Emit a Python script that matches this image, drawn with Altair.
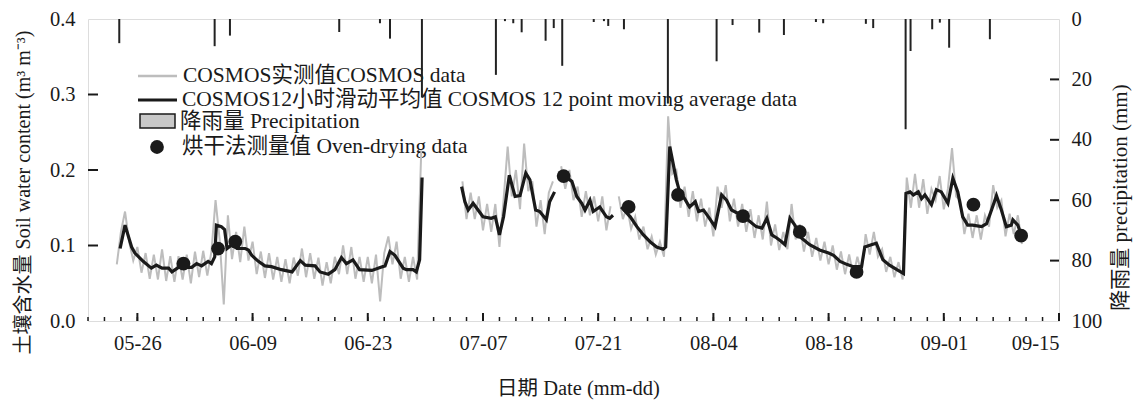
import altair as alt
import pandas as pd

FONT = "Liberation Serif, Noto Sans CJK SC"
START = pd.Timestamp("2014-05-20")

# ---------------- data (days after 05-20) ----------------
# precipitation events
precip_days = [3.80, 15.39, 17.25, 30.53, 35.48, 36.70, 40.58, 49.57, 50.67, 51.68,
               52.70, 55.61, 56.60, 57.63, 61.46, 62.70, 63.22, 65.13, 70.47, 76.39,
               78.33, 81.57, 84.57, 88.46, 89.34, 94.53, 95.42, 99.36, 99.96, 102.59,
               103.52, 104.65, 109.60]
precip_mm = [8.0, 9.0, 5.5, 4.3, 1.4, 6.5, 26.0, 18.5, 0.7, 1.4,
             4.4, 7.2, 3.0, 15.5, 1.0, 0.7, 2.3, 3.4, 28.0, 14.0,
             2.0, 4.5, 5.3, 1.0, 1.4, 1.6, 3.0, 36.5, 10.6, 3.4,
             1.2, 9.5, 6.7]

# 12-point moving average (black line), by continuous segment
avg_days_a = [3.9, 4.5, 5.3, 5.7, 6.7, 7.7, 8.3, 9.0, 9.8, 10.2, 11.0, 12.6, 13.2, 13.8,
              14.6, 15.0, 15.4, 15.6, 16.2, 16.6, 16.9, 17.5, 18.1, 19.1, 19.5, 19.9,
              20.7, 21.5, 22.3, 23.5, 24.8, 25.8, 26.4, 27.6, 28.2, 29.2, 30.0, 30.8,
              31.4, 32.2, 33.0, 34.5, 35.5, 36.1, 36.7, 37.3, 38.3, 38.7, 39.5, 39.9,
              40.3, 40.6]
avg_vals_a = [0.096, 0.127, 0.098, 0.090, 0.079, 0.070, 0.074, 0.070, 0.070, 0.065, 0.071,
              0.071, 0.076, 0.073, 0.079, 0.076, 0.085, 0.127, 0.125, 0.121, 0.096, 0.101,
              0.096, 0.096, 0.094, 0.087, 0.079, 0.073, 0.072, 0.068, 0.065, 0.080, 0.074,
              0.073, 0.065, 0.062, 0.068, 0.084, 0.076, 0.081, 0.068, 0.067, 0.071, 0.073,
              0.092, 0.087, 0.070, 0.068, 0.068, 0.065, 0.081, 0.190]
avg_days_b = [45.4, 45.8, 46.2, 46.8, 47.4, 48.0, 49.0, 49.5, 50.0, 50.5, 51.2, 51.9,
              52.5, 53.2, 53.7, 54.4, 54.9, 55.7, 56.1, 56.7]
avg_vals_b = [0.178, 0.158, 0.147, 0.156, 0.147, 0.138, 0.136, 0.138, 0.114, 0.138, 0.193,
              0.165, 0.166, 0.196, 0.187, 0.147, 0.145, 0.134, 0.158, 0.171]
avg_days_c = [57.9, 58.8, 59.4, 60.0, 60.4, 61.0, 61.4, 62.2, 63.0, 63.4, 63.8]
avg_vals_c = [0.192, 0.185, 0.165, 0.156, 0.147, 0.160, 0.145, 0.151, 0.138, 0.136, 0.140]
avg_days_d = [64.8, 65.9, 66.7, 67.5, 68.3, 69.1, 69.9, 70.2, 70.7, 71.5, 71.9, 72.5,
              73.1, 73.8, 74.2, 74.8, 75.4, 76.2, 77.0, 77.6, 78.2, 79.6, 80.4, 81.2,
              81.9, 82.5, 83.1, 83.7, 84.3, 84.7, 85.3, 85.9, 86.7, 87.7, 88.9, 90.0,
              90.6, 91.4, 92.2, 93.0, 94.0, 94.4, 95.2, 95.8, 96.6, 97.4, 98.3, 99.1,
              99.4, 99.9, 100.3, 100.9, 101.3, 101.7, 102.5, 103.1, 103.7, 104.5, 105.1,
              105.7, 106.3, 106.9, 107.5, 108.6, 109.2, 109.8, 110.4, 111.0, 111.6,
              112.2, 112.4, 113.0, 113.4]
avg_vals_d = [0.151, 0.138, 0.125, 0.114, 0.105, 0.098, 0.095, 0.098, 0.231, 0.187, 0.171,
              0.162, 0.151, 0.158, 0.145, 0.147, 0.138, 0.125, 0.167, 0.160, 0.147, 0.139,
              0.132, 0.125, 0.123, 0.136, 0.114, 0.110, 0.105, 0.101, 0.136, 0.127, 0.110,
              0.101, 0.094, 0.090, 0.087, 0.079, 0.075, 0.072, 0.072, 0.098, 0.101, 0.103,
              0.081, 0.074, 0.068, 0.063, 0.169, 0.171, 0.167, 0.171, 0.162, 0.167, 0.154,
              0.174, 0.171, 0.156, 0.189, 0.171, 0.138, 0.127, 0.127, 0.125, 0.129, 0.147,
              0.166, 0.147, 0.125, 0.127, 0.134, 0.127, 0.114]

# raw COSMOS data (grey), sampled every 12 h, by segment
raw_start = [3.5, 45.5, 57.5, 64.5]
raw_step = 0.5
raw_vals_a = [0.075, 0.118, 0.145, 0.105, 0.080, 0.098, 0.064, 0.090, 0.056, 0.088, 0.055,
              0.095, 0.053, 0.086, 0.052, 0.086, 0.055, 0.088, 0.050, 0.092, 0.058, 0.093,
              0.060, 0.092, 0.160, 0.108, 0.022, 0.140, 0.082, 0.118, 0.078, 0.125, 0.080,
              0.105, 0.062, 0.092, 0.057, 0.090, 0.055, 0.085, 0.052, 0.082, 0.050, 0.084,
              0.060, 0.096, 0.058, 0.090, 0.056, 0.084, 0.047, 0.078, 0.050, 0.085, 0.062,
              0.100, 0.062, 0.098, 0.056, 0.085, 0.052, 0.085, 0.050, 0.088, 0.026, 0.090,
              0.112, 0.075, 0.105, 0.056, 0.085, 0.052, 0.085, 0.055, 0.226]
raw_vals_b = [0.185, 0.135, 0.170, 0.135, 0.165, 0.120, 0.155, 0.118, 0.155, 0.098, 0.160,
              0.231, 0.165, 0.200, 0.148, 0.235, 0.172, 0.185, 0.125, 0.160, 0.115, 0.170,
              0.185]
raw_vals_c = [0.205, 0.175, 0.200, 0.160, 0.178, 0.138, 0.172, 0.140, 0.165, 0.132, 0.165,
              0.120, 0.152]
raw_vals_d = [0.165, 0.135, 0.152, 0.122, 0.138, 0.108, 0.125, 0.095, 0.112, 0.088, 0.105,
              0.085, 0.271, 0.195, 0.200, 0.150, 0.178, 0.138, 0.172, 0.132, 0.162, 0.125,
              0.150, 0.112, 0.178, 0.150, 0.180, 0.132, 0.162, 0.125, 0.155, 0.118, 0.148,
              0.110, 0.140, 0.108, 0.158, 0.100, 0.128, 0.094, 0.118, 0.095, 0.155, 0.108,
              0.128, 0.092, 0.118, 0.085, 0.110, 0.080, 0.105, 0.075, 0.100, 0.068, 0.092,
              0.062, 0.088, 0.060, 0.085, 0.062, 0.115, 0.088, 0.118, 0.085, 0.095, 0.065,
              0.085, 0.058, 0.078, 0.055, 0.190, 0.150, 0.195, 0.150, 0.188, 0.142, 0.175,
              0.160, 0.192, 0.148, 0.175, 0.229, 0.165, 0.160, 0.115, 0.142, 0.110, 0.140,
              0.108, 0.140, 0.125, 0.180, 0.150, 0.160, 0.112, 0.142, 0.115, 0.140, 0.102]

# oven-drying measurements
oven_days = [11.6, 15.8, 17.9, 57.8, 65.7, 71.7, 79.6, 86.5, 93.4, 107.6, 113.4]
oven_vals = [0.076, 0.096, 0.105, 0.192, 0.151, 0.167, 0.139, 0.118, 0.065, 0.154, 0.113]

# axis ticks
x_major = ["2014-05-26", "2014-06-09", "2014-06-23", "2014-07-07", "2014-07-21",
           "2014-08-04", "2014-08-18", "2014-09-01", "2014-09-15"]
x_domain = ["2014-05-20", "2014-09-15"]
y_left_ticks = [0.0, 0.1, 0.2, 0.3, 0.4]
y_right_ticks = [0, 20, 40, 60, 80, 100]

legend_labels = ["COSMOS实测值COSMOS data",
                 "COSMOS12小时滑动平均值 COSMOS 12 point moving average data",
                 "降雨量 Precipitation",
                 "烘干法测量值 Oven-drying data"]

# ---------------- tables ----------------
def t(days):
    return START + pd.to_timedelta(pd.Series(days, dtype=float), unit="D")

avg_df = pd.concat([
    pd.DataFrame({"time": t(d), "v": v, "seg": s})
    for d, v, s in [(avg_days_a, avg_vals_a, "a"), (avg_days_b, avg_vals_b, "b"),
                    (avg_days_c, avg_vals_c, "c"), (avg_days_d, avg_vals_d, "d")]
], ignore_index=True)

raw_parts = []
for st, vals, s in zip(raw_start, [raw_vals_a, raw_vals_b, raw_vals_c, raw_vals_d], "abcd"):
    days = [st + raw_step * i for i in range(len(vals))]
    raw_parts.append(pd.DataFrame({"time": t(days), "v": vals, "seg": s}))
raw_df = pd.concat(raw_parts, ignore_index=True)

oven_df = pd.DataFrame({"time": t(oven_days), "v": oven_vals})
precip_df = pd.DataFrame({"time": t(precip_days), "mm": precip_mm})

major_df = pd.DataFrame({"time": pd.to_datetime(x_major)})
minor_dates = pd.date_range(x_domain[0], x_domain[1], freq="2D")
minor_df = pd.DataFrame({"time": minor_dates})
yl_df = pd.DataFrame({"v": y_left_ticks[1:-1]})
yr_df = pd.DataFrame({"mm": y_right_ticks[1:-1]})

W, H = 971, 302
INK = "#1a1a1a"

x_enc = alt.X("time:T",
              scale=alt.Scale(domain=x_domain, nice=False),
              axis=alt.Axis(values=list(pd.to_datetime(x_major).strftime("%Y-%m-%dT00:00:00")),
                            format="%m-%d", title="日期 Date (mm-dd)",
                            ticks=False, tickSize=0, domain=False, grid=False,
                            labelPadding=12, labelFontSize=20.5, labelFont=FONT,
                            labelColor=INK, labelBaseline="top",
                            titleFont=FONT, titleFontSize=20.5, titleFontWeight="normal",
                            titleColor=INK, titleX=490, titleY=67,
                            titleBaseline="middle", titleAlign="center"))

y_soil = alt.Y("v:Q",
               scale=alt.Scale(domain=[0, 0.4], nice=False, zero=False),
               axis=alt.Axis(values=y_left_ticks, format=".1f", orient="left",
                             title="土壤含水量 Soil water content (m³ m⁻³)",
                             ticks=False, tickSize=0, domain=False, grid=False,
                             labelPadding=13, labelFontSize=20.5, labelFont=FONT,
                             labelColor=INK,
                             titleFont=FONT, titleFontSize=20, titleFontWeight="normal",
                             titleColor=INK, titleX=-65, titleY=173, titleAngle=270,
                             titleBaseline="middle", titleAlign="center"))

y_rain = alt.Y("mm:Q",
               scale=alt.Scale(domain=[0, 100], reverse=True, nice=False),
               axis=alt.Axis(values=y_right_ticks, orient="right",
                             title="降雨量 precipitation (mm)",
                             ticks=False, tickSize=0, domain=False, grid=False,
                             labelPadding=12, labelFontSize=20.5, labelFont=FONT,
                             labelColor=INK,
                             titleFont=FONT, titleFontSize=21, titleFontWeight="normal",
                             titleColor=INK, titleX=61, titleY=178, titleAngle=270,
                             titleBaseline="middle", titleAlign="center"))

raw_line = alt.Chart(raw_df).mark_line(color="#bdbdbd", strokeWidth=2).encode(
    x=x_enc, y=y_soil, detail="seg:N")
avg_line = alt.Chart(avg_df).mark_line(color=INK, strokeWidth=3.2).encode(
    x=x_enc, y=y_soil, detail="seg:N")
oven_pts = alt.Chart(oven_df).mark_circle(size=190, color=INK, opacity=1).encode(
    x=x_enc, y=y_soil)
yl_ticks = alt.Chart(yl_df).mark_rule(color=INK, strokeWidth=2).encode(
    y=y_soil, x=alt.value(0), x2=alt.value(10))
x_major_ticks = alt.Chart(major_df).mark_rule(color=INK, strokeWidth=2).encode(
    x=x_enc, y=alt.value(H), y2=alt.value(H - 8))
x_minor_ticks = alt.Chart(minor_df).mark_rule(color=INK, strokeWidth=1.5).encode(
    x=x_enc, y=alt.value(H), y2=alt.value(H - 4))

soil = alt.layer(raw_line, avg_line, oven_pts, yl_ticks, x_major_ticks, x_minor_ticks)

rain_bars = alt.Chart(precip_df).mark_rule(color="#222222", strokeWidth=2).encode(
    x=x_enc, y=y_rain, y2=alt.datum(0))
yr_ticks = alt.Chart(yr_df).mark_rule(color=INK, strokeWidth=2).encode(
    y=y_rain, x=alt.value(W), x2=alt.value(W - 9))
rain = alt.layer(rain_bars, yr_ticks)

one = pd.DataFrame({"k": [0]})

def leg_text(label, x, y):
    return alt.Chart(pd.DataFrame({"t": [label]})).mark_text(
        align="left", baseline="middle", font=FONT, fontSize=21.5, color=INK
    ).encode(text="t:N", x=alt.value(x), y=alt.value(y))

legend = alt.layer(
    alt.Chart(one).mark_rule(color="#bdbdbd", strokeWidth=2.5).encode(
        x=alt.value(50), x2=alt.value(89), y=alt.value(57)),
    leg_text(legend_labels[0], 95, 57),
    alt.Chart(one).mark_rule(color=INK, strokeWidth=3.2).encode(
        x=alt.value(50), x2=alt.value(89), y=alt.value(81)),
    leg_text(legend_labels[1], 94, 81),
    alt.Chart(one).mark_rect(fill="#c8c8c8", stroke=INK, strokeWidth=1.5).encode(
        x=alt.value(52), x2=alt.value(87), y=alt.value(95), y2=alt.value(109)),
    leg_text(legend_labels[2], 92, 103),
    alt.Chart(one).mark_circle(size=190, color=INK, opacity=1).encode(
        x=alt.value(69), y=alt.value(128)),
    leg_text(legend_labels[3], 94, 128),
)

chart = alt.layer(legend, soil, rain).resolve_scale(y="independent").properties(
    width=W, height=H,
    autosize=alt.AutoSizeParams(type="none"),
    padding={"left": 88, "top": 19, "right": 76, "bottom": 83},
).configure_view(stroke=INK, strokeWidth=2).configure(background="white")

chart.save("out.html", embed_options={"renderer": "svg", "actions": False})
